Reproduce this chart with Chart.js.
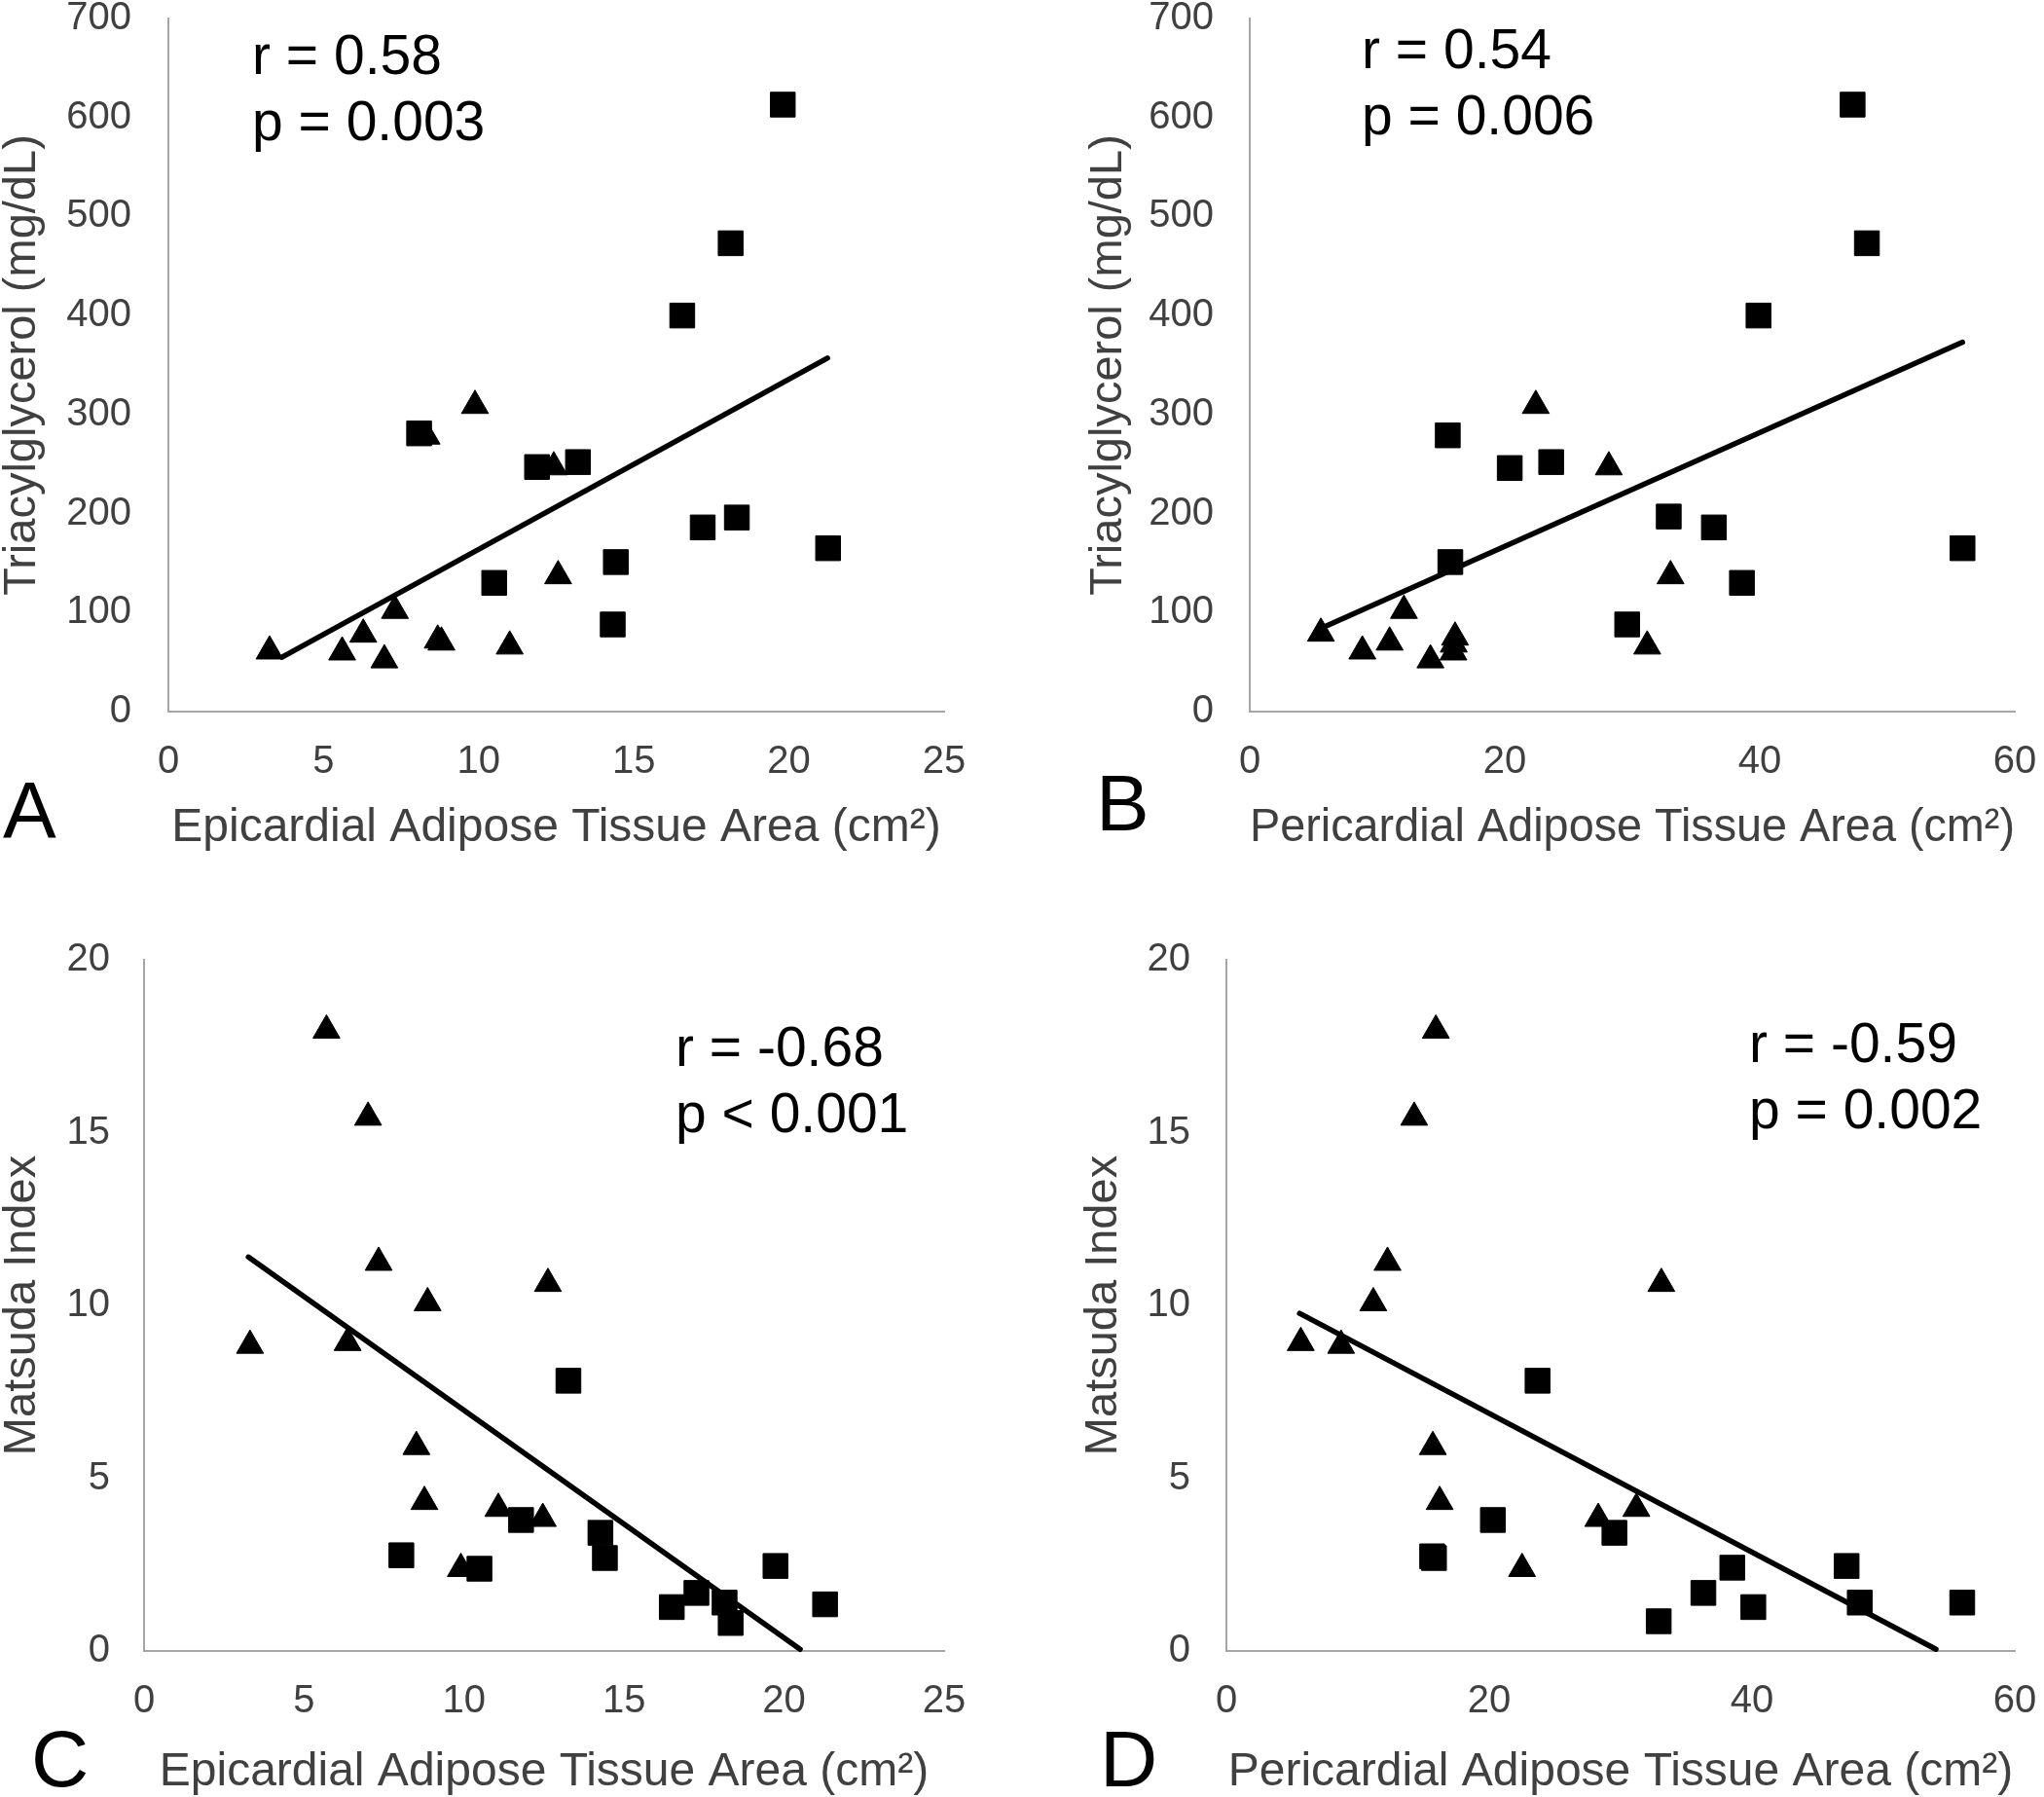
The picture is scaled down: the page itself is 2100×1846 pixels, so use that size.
<!DOCTYPE html>
<html>
<head>
<meta charset="utf-8">
<script src="https://cdn.jsdelivr.net/npm/chart.js@4.4.0/dist/chart.umd.min.js"></script>
<style>
html, body { margin: 0; padding: 0; background: #fff; overflow: hidden; }
#wrap { position: relative; width: 2100px; height: 1846px; }
canvas { position: absolute; }
.note { position: absolute; font-family: 'Liberation Sans', Arial, sans-serif; font-size: 57px; line-height: 68px; color: #000; white-space: pre; }
.tag { position: absolute; font-family: 'Liberation Sans', Arial, sans-serif; font-size: 82px; line-height: 82px; color: #000; }
</style>
</head>
<body>
<div id="wrap">
  <canvas id="chartA" width="1060" height="930" style="left:0px;top:0px"></canvas>
  <canvas id="chartB" width="1000" height="930" style="left:1100px;top:0px"></canvas>
  <canvas id="chartC" width="1060" height="886" style="left:0px;top:960px"></canvas>
  <canvas id="chartD" width="1000" height="886" style="left:1100px;top:960px"></canvas>

  <div class="note" style="left:259px;top:22px">r = 0.58
p = 0.003</div>
  <div class="note" style="left:1399px;top:16px">r = 0.54
p = 0.006</div>
  <div class="note" style="left:694px;top:1041px">r = -0.68
p &lt; 0.001</div>
  <div class="note" style="left:1797px;top:1037px">r = -0.59
p = 0.002</div>

  <div class="tag" style="left:3px;top:791px">A</div>
  <div class="tag" style="left:1126px;top:784px">B</div>
  <div class="tag" style="left:32px;top:1766px">C</div>
  <div class="tag" style="left:1130px;top:1766px">D</div>
</div>

<script>
// A: epicardial area vs triacylglycerol
const aSqX  = [19.8, 18.12, 16.56, 17.22, 18.32, 21.26, 14.42, 14.32, 10.5, 13.2, 11.88, 8.08];
const aSqY  = [613, 473, 400, 186, 196, 165, 151, 88, 130, 252, 247, 281];
const aTriX = [9.88, 8.32, 12.42, 12.56, 7.3, 6.28, 5.6, 6.96, 8.68, 8.8, 11.0, 3.26];
const aTriY = [309, 278, 247, 137, 102, 78, 60, 52, 72, 70, 66, 61];
const aFitX = [3.66, 21.24];
const aFitY = [55, 357];

// B: pericardial area vs triacylglycerol
const bSqX  = [47.28, 48.4, 39.9, 15.53, 20.39, 23.64, 32.86, 36.4, 38.6, 15.73, 29.6, 55.9];
const bSqY  = [613, 473, 400, 279, 246, 252, 197, 186, 130, 151, 88, 165];
const bTriX = [22.43, 28.16, 33.0, 12.09, 5.58, 8.83, 10.97, 14.17, 16.1, 15.97, 16.0, 31.17];
const bTriY = [309, 247, 137, 102, 79, 61, 70, 52, 75, 60, 68, 66];
const bFitX = [5.92, 55.9];
const bFitY = [86, 373];

// C: epicardial area vs Matsuda index
const cSqX  = [13.26, 8.04, 10.48, 11.78, 14.26, 14.40, 19.73, 16.49, 17.26, 18.14, 18.33, 21.28];
const cSqY  = [7.82, 2.77, 2.38, 3.79, 3.42, 2.69, 2.46, 1.27, 1.68, 1.40, 0.81, 1.35];
const cTriX = [5.70, 7.0, 7.33, 12.62, 8.86, 3.31, 6.36, 8.51, 8.76, 11.07, 9.9, 12.46];
const cTriY = [17.96, 15.44, 11.24, 10.63, 10.07, 8.84, 8.92, 5.91, 4.32, 4.12, 2.38, 3.83];
const cFitX = [3.26, 20.5];
const cFitY = [11.40, 0.05];

// D: pericardial area vs Matsuda index
const dSqX  = [23.68, 20.28, 29.53, 15.66, 15.8, 47.2, 38.5, 36.3, 40.1, 48.2, 32.9, 56.0];
const dSqY  = [7.82, 3.79, 3.42, 2.74, 2.69, 2.46, 2.41, 1.68, 1.27, 1.40, 0.86, 1.40];
const dTriX = [15.94, 14.29, 12.26, 33.1, 11.18, 5.66, 8.73, 15.71, 16.23, 31.2, 22.5, 28.3];
const dTriY = [17.96, 15.44, 11.24, 10.63, 10.07, 8.92, 8.84, 5.91, 4.32, 4.12, 2.38, 3.83];
const dFitX = [5.57, 54.0];
const dFitY = [9.77, 0.05];

const epiTitle = 'Epicardial Adipose Tissue Area (cm\u00B2)';
const periTitle = 'Pericardial Adipose Tissue Area (cm\u00B2)';
const tgTitle = 'Triacylglycerol (mg/dL)';
const matTitle = 'Matsuda Index';

Chart.defaults.font.family = "'Liberation Sans', Arial, Helvetica, sans-serif";
Chart.defaults.color = '#404040';
Chart.defaults.animation = false;

function pts(xs, ys) {
  return xs.map(function (x, i) { return { x: x, y: ys[i] }; });
}

function makePanel(id, p) {
  new Chart(document.getElementById(id), {
    type: 'scatter',
    data: {
      datasets: [
        { data: pts(p.fitX, p.fitY), showLine: true, borderColor: '#000', borderWidth: 5.5,
          borderCapStyle: 'round', pointRadius: 0, fill: false },
        { data: pts(p.sqX, p.sqY), pointStyle: 'rect', pointRadius: 18,
          backgroundColor: '#000', borderColor: '#000', borderWidth: 1 },
        { data: pts(p.triX, p.triY), pointStyle: 'triangle', pointRadius: 16,
          backgroundColor: '#000', borderColor: '#000', borderWidth: 1 }
      ]
    },
    options: {
      responsive: false,
      events: [],
      clip: false,
      layout: { autoPadding: false, padding: { left: 0, top: p.top, right: p.right, bottom: 0 } },
      plugins: { legend: { display: false }, tooltip: { enabled: false } },
      scales: {
        x: {
          min: 0, max: p.xMax,
          ticks: { stepSize: p.xStep, padding: 34, color: '#404040', font: { size: 40, lineHeight: 0.9 } },
          grid: { display: false, drawTicks: false },
          border: { color: '#a6a6a6', width: 2 },
          title: { display: true, text: p.xTitle, color: '#404040',
                   font: { size: 48, lineHeight: 1 }, padding: { top: 0, bottom: p.xTitlePad } },
          // keep the plot box where the figure has it
          afterFit: function (s) { s.height = p.xHeight; s.paddingLeft = 0; s.paddingRight = 0; }
        },
        y: {
          min: 0, max: p.yMax,
          ticks: { stepSize: p.yStep, padding: p.yTickPad, color: '#404040', font: { size: 40, lineHeight: 0.9 } },
          grid: { display: false, drawTicks: false },
          border: { color: '#a6a6a6', width: 2 },
          title: { display: true, text: p.yTitle, color: '#404040',
                   font: { size: 47, lineHeight: 1 }, padding: { top: p.yTitlePad, bottom: 0 } },
          afterFit: function (s) { s.width = p.yWidth; s.paddingTop = 0; s.paddingBottom = 0; }
        }
      }
    }
  });
}

makePanel('chartA', { sqX: aSqX, sqY: aSqY, triX: aTriX, triY: aTriY, fitX: aFitX, fitY: aFitY,
  xMax: 25, xStep: 5, yMax: 700, yStep: 100, xTitle: epiTitle, yTitle: tgTitle,
  top: 19, right: 90, yWidth: 173, xHeight: 199, xTitlePad: 55, yTitlePad: 0, yTickPad: 38 });

makePanel('chartB', { sqX: bSqX, sqY: bSqY, triX: bTriX, triY: bTriY, fitX: bFitX, fitY: bFitY,
  xMax: 60, xStep: 20, yMax: 700, yStep: 100, xTitle: periTitle, yTitle: tgTitle,
  top: 19, right: 30, yWidth: 184, xHeight: 199, xTitlePad: 55, yTitlePad: 16, yTickPad: 37 });

makePanel('chartC', { sqX: cSqX, sqY: cSqY, triX: cTriX, triY: cTriY, fitX: cFitX, fitY: cFitY,
  xMax: 25, xStep: 5, yMax: 20, yStep: 5, xTitle: epiTitle, yTitle: matTitle,
  top: 26, right: 90, yWidth: 148, xHeight: 150, xTitlePad: 1, yTitlePad: 0, yTickPad: 35 });

makePanel('chartD', { sqX: dSqX, sqY: dSqY, triX: dTriX, triY: dTriY, fitX: dFitX, fitY: dFitY,
  xMax: 60, xStep: 20, yMax: 20, yStep: 5, xTitle: periTitle, yTitle: matTitle,
  top: 26, right: 30, yWidth: 160, xHeight: 150, xTitlePad: 1, yTitlePad: 11, yTickPad: 37 });
</script>
</body>
</html>
